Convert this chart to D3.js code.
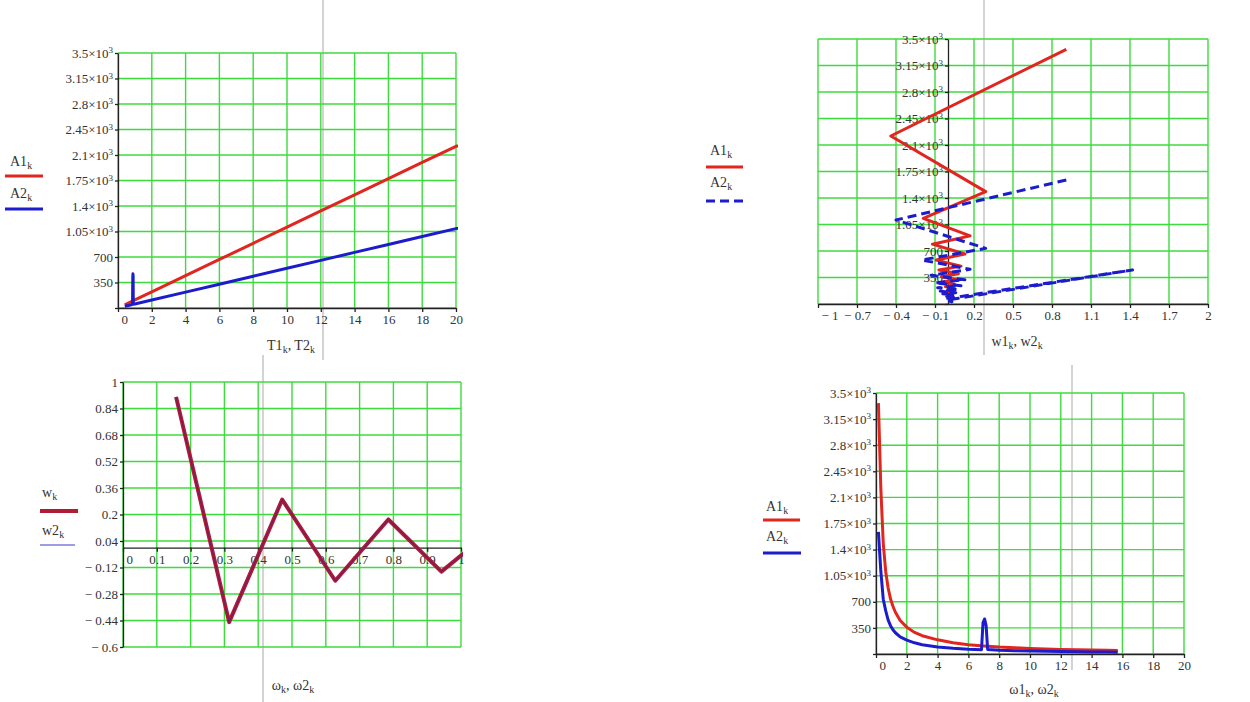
<!DOCTYPE html>
<html lang="en">
<head>
<meta charset="UTF-8">
<title>A1, A2 vs T and omega</title>
<script src="https://d3js.org/d3.v7.min.js"></script>
<style>
  body { margin: 0; background: #fff; }
  svg { display: block; font-family: "Liberation Serif", "Times New Roman", serif; }
  .grid line { stroke: #3ddc3d; stroke-width: 1.4px; }
  .axis path, .axis line { stroke: #222; stroke-width: 1.3px; }
  .axis text { fill: #333; font-size: 13px; font-family: "Liberation Serif", serif; }
  .ttl { fill: #333; font-size: 14px; }
</style>
</head>
<body>
<svg width="1250" height="702"></svg>
<script>
// ---- tick values ----
const ticksA = [0, 350, 700, 1050, 1400, 1750, 2100, 2450, 2800, 3150, 3500];
const ticksT = [0, 2, 4, 6, 8, 10, 12, 14, 16, 18, 20];
const ticksW = [-1, -0.7, -0.4, -0.1, 0.2, 0.5, 0.8, 1.1, 1.4, 1.7, 2];
const ticksOm = [0, 0.1, 0.2, 0.3, 0.4, 0.5, 0.6, 0.7, 0.8, 0.9, 1];
const ticksWv = [-0.6, -0.44, -0.28, -0.12, 0.04, 0.2, 0.36, 0.52, 0.68, 0.84, 1];

// ---- panel 1: A vs period ----
const T1 = [0.4, 1, 2, 4, 6, 8, 10, 12, 14, 16, 18, 20, 40];
const A1_T1 = [44, 111, 222, 444, 666, 888, 1110, 1332, 1554, 1776, 1998, 2219, 3364];
const T2 = [0.4, 0.6, 0.8, 0.86, 0.875, 0.885, 0.895, 0.905, 0.92, 1, 2, 4, 6, 8, 10, 12, 14, 16, 18, 20, 40];
const A2_T2 = [24, 33, 44, 58, 420, 470, 440, 70, 52, 55, 109, 218, 327, 436, 545, 654, 763, 872, 981, 1090, 1638];

// ---- panel 2: A vs w ----
const w1 = [0.91, -0.44, 0.29, -0.19, 0.17, -0.12, 0.13, -0.09, 0.1, -0.07, 0.08, -0.05, 0.07, -0.04, 0.05, -0.02, 0.04, 0.0, 0.03, 0.01, 0.02];
const A1_w1 = [3364, 2219, 1484, 1130, 900, 790, 660, 580, 500, 450, 400, 360, 320, 290, 260, 230, 200, 170, 140, 100, 46];
const w2 = [0.91, -0.4, 0.29, -0.2, 0.17, -0.13, 0.13, -0.1, 0.1, -0.08, 0.08, -0.06, 0.06, -0.04, 0.05, -0.03, 0.04, -0.02, 0.03, 0.1, 1.42, 0.08, 0.02, 0.04, 0.01, 0.03, 0.02];
const A2_w2 = [1638, 1110, 735, 581, 458, 380, 320, 280, 240, 215, 190, 170, 150, 135, 120, 105, 92, 80, 70, 100, 450, 75, 60, 48, 40, 30, 24];

// ---- panel 3: w vs omega ----
const omega = [0.157, 0.314, 0.471, 0.628, 0.785, 0.942, 1.1];
const w = [0.91, -0.45, 0.29, -0.2, 0.17, -0.145, 0.12];
const w2_om = [0.91, -0.45, 0.29, -0.2, 0.17, -0.145, 0.12];

// ---- panel 4: A vs omega ----
const omega1 = [0.157, 0.314, 0.471, 0.628, 0.785, 0.942, 1.1, 1.26, 1.57, 2, 2.5, 3, 4, 5, 6, 7, 8, 9, 10, 11, 12, 13, 14, 15, 15.7];
const A1_om1 = [3364, 2219, 1484, 1110, 888, 740, 640, 560, 450, 360, 290, 245, 190, 150, 125, 108, 93, 83, 74, 67, 62, 57, 53, 49, 46];
const omega2 = [0.157, 0.314, 0.471, 0.628, 0.785, 0.942, 1.1, 1.26, 1.57, 2, 2.5, 3, 4, 5, 6, 6.85, 6.95, 7.05, 7.15, 7.25, 8, 9, 10, 11, 12, 13, 14, 15, 15.7];
const A2_om2 = [1638, 1110, 735, 581, 458, 380, 325, 285, 230, 185, 150, 125, 95, 76, 64, 58, 420, 470, 380, 60, 50, 44, 40, 36, 33, 30, 28, 26, 24];

const RED = "#e0261f", BLUE = "#1c1ccc";
const svg = d3.select("svg");
svg.append("rect").attr("width", 1250).attr("height", 702).attr("fill", "#fff");

// page break lines (light gray)
[[323, 0, 360], [263, 355, 702], [984, 0, 355], [1072, 365, 670]].forEach(l => {
  svg.append("line").attr("x1", l[0]).attr("x2", l[0]).attr("y1", l[1]).attr("y2", l[2])
    .attr("stroke", "#d4d4d4").attr("stroke-width", 2);
});

function tickText(sel, v) {
  sel.text(null);
  if (Math.abs(v) >= 1000) {
    sel.append("tspan").text(+(v / 1000).toFixed(2) + "\u00d710");
    sel.append("tspan").attr("dy", "-0.5em").attr("font-size", "9px").text("3");
  } else if (v < 0) {
    sel.text("\u2212 " + Math.abs(v));
  } else {
    sel.text(v);
  }
}

// text with "k" subscripts: parts = [["A1","k"], ...]
function subText(g, x, y, parts, anchor) {
  const t = g.append("text").attr("class", "ttl").attr("x", x).attr("y", y)
    .attr("text-anchor", anchor || "start");
  parts.forEach((p, i) => {
    t.append("tspan").text((i > 0 ? ", " : "") + p[0]).attr("dy", i > 0 ? -3 : 0);
    t.append("tspan").text(p[1]).attr("font-size", "10px").attr("dy", 3);
  });
  return t;
}

let clipId = 0;
function drawPanel(p) {
  const x = d3.scaleLinear().domain([p.xTicks[0], p.xTicks[p.xTicks.length - 1]]).range([p.left, p.right]);
  const y = d3.scaleLinear().domain([p.yTicks[0], p.yTicks[p.yTicks.length - 1]]).range([p.bottom, p.top]);
  const g = svg.append("g");

  const grid = g.append("g").attr("class", "grid");
  grid.selectAll(".v").data(p.xTicks).enter().append("line").attr("class", "v")
    .attr("x1", d => x(d)).attr("x2", d => x(d)).attr("y1", p.top).attr("y2", p.bottom);
  grid.selectAll(".h").data(p.yTicks).enter().append("line").attr("class", "h")
    .attr("y1", d => y(d)).attr("y2", d => y(d)).attr("x1", p.left).attr("x2", p.right);

  const xa = g.append("g").attr("class", "axis")
    .attr("transform", `translate(0,${y(p.xAxisAt)})`)
    .call(d3.axisBottom(x).tickValues(p.xTicks).tickSizeInner(4).tickSizeOuter(0).tickPadding(3));
  xa.selectAll(".tick text").each(function (d, i) {
    tickText(d3.select(this), d);
    if (i === 0) d3.select(this).attr("x", 3).attr("text-anchor", "start");
  });

  const ya = g.append("g").attr("class", "axis")
    .attr("transform", `translate(${x(p.yAxisAt)},0)`)
    .call(d3.axisLeft(y).tickValues(p.yTicks).tickSizeInner(3).tickSizeOuter(0).tickPadding(2));
  ya.selectAll(".tick text").each(function (d) {
    tickText(d3.select(this), d);
    if (p.hideY0 && d === 0) d3.select(this).remove();
  });

  const cid = "clip" + (clipId++);
  g.append("clipPath").attr("id", cid).append("rect")
    .attr("x", p.left).attr("y", p.top - 2).attr("width", p.right - p.left + 2).attr("height", p.bottom - p.top + 2);
  const plot = g.append("g").attr("clip-path", `url(#${cid})`);
  p.series.forEach(s => {
    const line = d3.line().x(i => x(s.x[i])).y(i => y(s.y[i]));
    plot.append("path").attr("d", line(d3.range(s.x.length)))
      .attr("fill", "none").attr("stroke", s.color).attr("stroke-width", s.width)
      .attr("stroke-linejoin", "round").attr("stroke-dasharray", s.dash || null)
      .attr("opacity", s.opacity || 1);
  });

  // legend
  p.series.forEach((s, i) => {
    const L = p.legend[i];
    subText(g, L.tx, L.ty, [[s.name, "k"]]);
    g.append("line").attr("x1", L.lx0).attr("x2", L.lx1).attr("y1", L.ly).attr("y2", L.ly)
      .attr("stroke", s.legColor || s.color).attr("stroke-width", s.legWidth || s.width)
      .attr("stroke-dasharray", s.dash || null);
  });

  subText(g, p.title.x, p.title.y, p.title.parts, "middle");
}

drawPanel({
  left: 118, right: 456, top: 53, bottom: 308,
  xTicks: ticksT, yTicks: ticksA, xAxisAt: 0, yAxisAt: 0, hideY0: true,
  series: [
    { name: "A1", x: T1, y: A1_T1, color: RED, width: 3 },
    { name: "A2", x: T2, y: A2_T2, color: BLUE, width: 3 }
  ],
  legend: [
    { tx: 10, ty: 166, lx0: 5, lx1: 43, ly: 176 },
    { tx: 10, ty: 198, lx0: 5, lx1: 43, ly: 209 }
  ],
  title: { x: 291, y: 350, parts: [["T1", "k"], ["T2", "k"]] }
});

drawPanel({
  left: 818, right: 1208, top: 39, bottom: 304,
  xTicks: ticksW, yTicks: ticksA, xAxisAt: 0, yAxisAt: 0, hideY0: true,
  series: [
    { name: "A1", x: w1, y: A1_w1, color: RED, width: 3 },
    { name: "A2", x: w2, y: A2_w2, color: BLUE, width: 3, dash: "9,5" }
  ],
  legend: [
    { tx: 710, ty: 155, lx0: 706, lx1: 743, ly: 167 },
    { tx: 710, ty: 187, lx0: 706, lx1: 743, ly: 201 }
  ],
  title: { x: 1017, y: 346, parts: [["w1", "k"], ["w2", "k"]] }
});

drawPanel({
  left: 123, right: 461, top: 382, bottom: 647,
  xTicks: ticksOm, yTicks: ticksWv, xAxisAt: 0, yAxisAt: 0, hideY0: false,
  series: [
    { name: "w", x: omega, y: w, color: "#b01c34", width: 4 },
    { name: "w2", x: omega, y: w2_om, color: "#5a1a7a", width: 1.3, opacity: 0.6, legColor: "#3c3ccc", legWidth: 1.2 }
  ],
  legend: [
    { tx: 42, ty: 497, lx0: 40, lx1: 78, ly: 511 },
    { tx: 42, ty: 535, lx0: 40, lx1: 75, ly: 545 }
  ],
  title: { x: 293, y: 690, parts: [["\u03c9", "k"], ["\u03c92", "k"]] }
});

drawPanel({
  left: 876, right: 1184, top: 393, bottom: 654,
  xTicks: ticksT, yTicks: ticksA, xAxisAt: 0, yAxisAt: 0, hideY0: true,
  series: [
    { name: "A1", x: omega1, y: A1_om1, color: RED, width: 3 },
    { name: "A2", x: omega2, y: A2_om2, color: BLUE, width: 3 }
  ],
  legend: [
    { tx: 766, ty: 511, lx0: 763, lx1: 800, ly: 520 },
    { tx: 766, ty: 541, lx0: 763, lx1: 801, ly: 553 }
  ],
  title: { x: 1034, y: 694, parts: [["\u03c91", "k"], ["\u03c92", "k"]] }
});
</script>
</body>
</html>
